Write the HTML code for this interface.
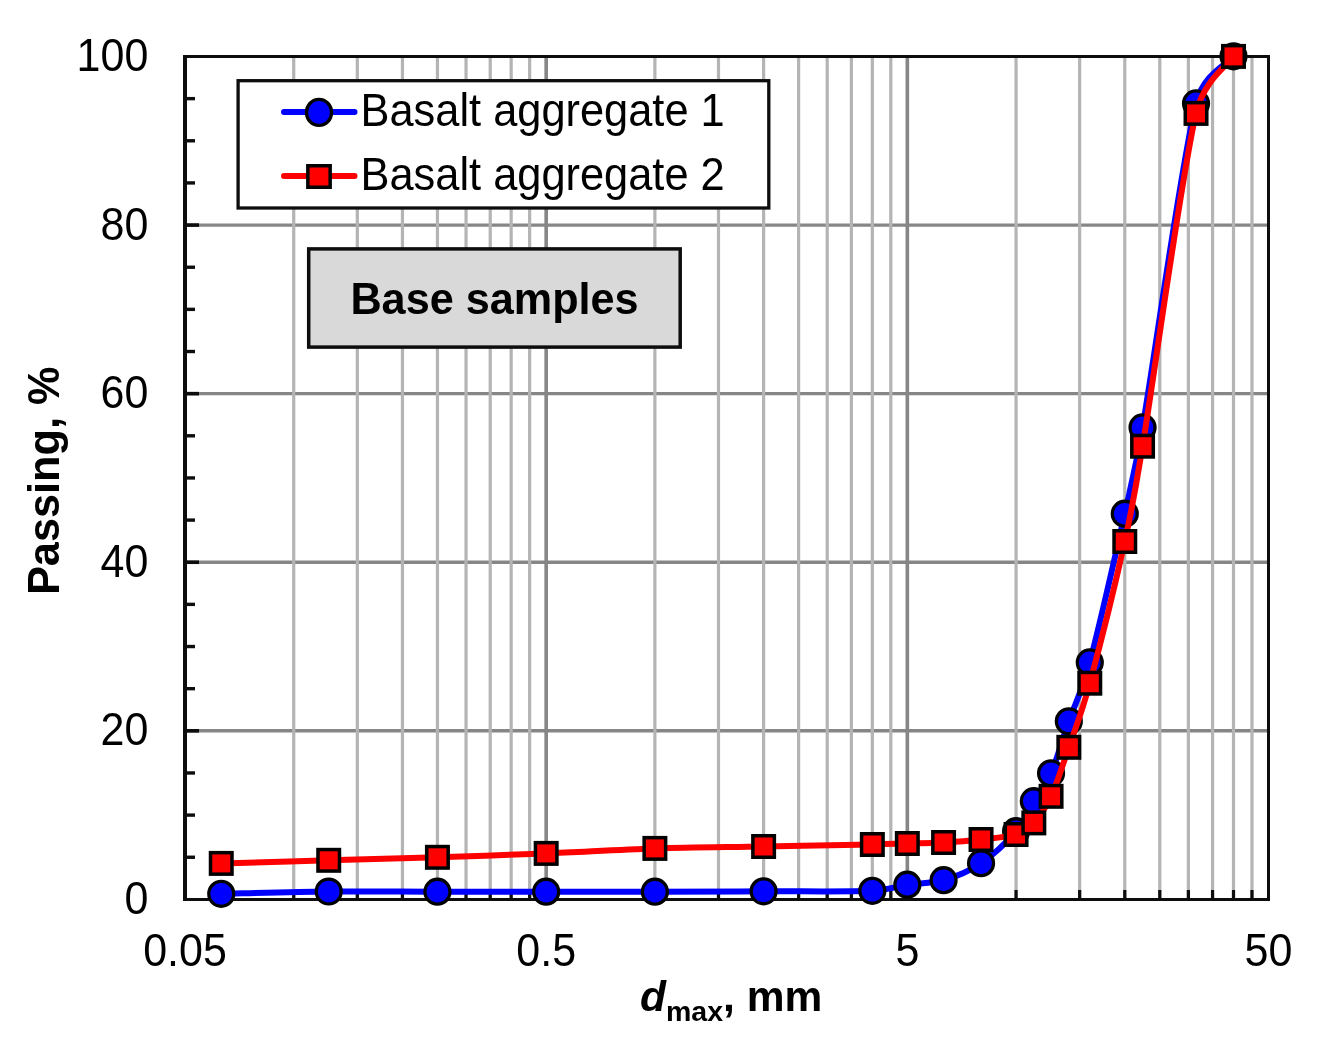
<!DOCTYPE html><html><head><meta charset="utf-8"><style>html,body{margin:0;padding:0;background:#fff;}svg{display:block;}text{font-family:"Liberation Sans",sans-serif;fill:#000;}svg{will-change:transform;}</style></head><body>
<svg width="1325" height="1052" viewBox="0 0 1325 1052">
<rect x="0" y="0" width="1325" height="1052" fill="#fff"/>
<line x1="185.0" y1="730.82" x2="1268.5" y2="730.82" stroke="#868686" stroke-width="3.4"/>
<line x1="185.0" y1="562.24" x2="1268.5" y2="562.24" stroke="#868686" stroke-width="3.4"/>
<line x1="185.0" y1="393.66" x2="1268.5" y2="393.66" stroke="#868686" stroke-width="3.4"/>
<line x1="185.0" y1="225.08" x2="1268.5" y2="225.08" stroke="#868686" stroke-width="3.4"/>
<line x1="293.72" y1="56.5" x2="293.72" y2="899.4" stroke="#b4b4b4" stroke-width="3.2"/>
<line x1="357.32" y1="56.5" x2="357.32" y2="899.4" stroke="#b4b4b4" stroke-width="3.2"/>
<line x1="402.44" y1="56.5" x2="402.44" y2="899.4" stroke="#b4b4b4" stroke-width="3.2"/>
<line x1="437.44" y1="56.5" x2="437.44" y2="899.4" stroke="#b4b4b4" stroke-width="3.2"/>
<line x1="466.04" y1="56.5" x2="466.04" y2="899.4" stroke="#b4b4b4" stroke-width="3.2"/>
<line x1="490.22" y1="56.5" x2="490.22" y2="899.4" stroke="#b4b4b4" stroke-width="3.2"/>
<line x1="511.17" y1="56.5" x2="511.17" y2="899.4" stroke="#b4b4b4" stroke-width="3.2"/>
<line x1="529.64" y1="56.5" x2="529.64" y2="899.4" stroke="#b4b4b4" stroke-width="3.2"/>
<line x1="654.89" y1="56.5" x2="654.89" y2="899.4" stroke="#b4b4b4" stroke-width="3.2"/>
<line x1="718.49" y1="56.5" x2="718.49" y2="899.4" stroke="#b4b4b4" stroke-width="3.2"/>
<line x1="763.61" y1="56.5" x2="763.61" y2="899.4" stroke="#b4b4b4" stroke-width="3.2"/>
<line x1="798.61" y1="56.5" x2="798.61" y2="899.4" stroke="#b4b4b4" stroke-width="3.2"/>
<line x1="827.21" y1="56.5" x2="827.21" y2="899.4" stroke="#b4b4b4" stroke-width="3.2"/>
<line x1="851.39" y1="56.5" x2="851.39" y2="899.4" stroke="#b4b4b4" stroke-width="3.2"/>
<line x1="872.33" y1="56.5" x2="872.33" y2="899.4" stroke="#b4b4b4" stroke-width="3.2"/>
<line x1="890.81" y1="56.5" x2="890.81" y2="899.4" stroke="#b4b4b4" stroke-width="3.2"/>
<line x1="1016.06" y1="56.5" x2="1016.06" y2="899.4" stroke="#b4b4b4" stroke-width="3.2"/>
<line x1="1079.65" y1="56.5" x2="1079.65" y2="899.4" stroke="#b4b4b4" stroke-width="3.2"/>
<line x1="1124.78" y1="56.5" x2="1124.78" y2="899.4" stroke="#b4b4b4" stroke-width="3.2"/>
<line x1="1159.78" y1="56.5" x2="1159.78" y2="899.4" stroke="#b4b4b4" stroke-width="3.2"/>
<line x1="1188.38" y1="56.5" x2="1188.38" y2="899.4" stroke="#b4b4b4" stroke-width="3.2"/>
<line x1="1212.55" y1="56.5" x2="1212.55" y2="899.4" stroke="#b4b4b4" stroke-width="3.2"/>
<line x1="1233.50" y1="56.5" x2="1233.50" y2="899.4" stroke="#b4b4b4" stroke-width="3.2"/>
<line x1="1251.97" y1="56.5" x2="1251.97" y2="899.4" stroke="#b4b4b4" stroke-width="3.2"/>
<line x1="546.17" y1="56.5" x2="546.17" y2="899.4" stroke="#868686" stroke-width="3.6"/>
<line x1="907.33" y1="56.5" x2="907.33" y2="899.4" stroke="#868686" stroke-width="3.6"/>
<line x1="185.0" y1="56.5" x2="1268.5" y2="56.5" stroke="#0d0d0d" stroke-width="3"/>
<line x1="1268.5" y1="55" x2="1268.5" y2="901" stroke="#0d0d0d" stroke-width="3"/>
<line x1="293.72" y1="890" x2="293.72" y2="899" stroke="#0d0d0d" stroke-width="3.2"/>
<line x1="357.32" y1="890" x2="357.32" y2="899" stroke="#0d0d0d" stroke-width="3.2"/>
<line x1="402.44" y1="890" x2="402.44" y2="899" stroke="#0d0d0d" stroke-width="3.2"/>
<line x1="437.44" y1="890" x2="437.44" y2="899" stroke="#0d0d0d" stroke-width="3.2"/>
<line x1="466.04" y1="890" x2="466.04" y2="899" stroke="#0d0d0d" stroke-width="3.2"/>
<line x1="490.22" y1="890" x2="490.22" y2="899" stroke="#0d0d0d" stroke-width="3.2"/>
<line x1="511.17" y1="890" x2="511.17" y2="899" stroke="#0d0d0d" stroke-width="3.2"/>
<line x1="529.64" y1="890" x2="529.64" y2="899" stroke="#0d0d0d" stroke-width="3.2"/>
<line x1="654.89" y1="890" x2="654.89" y2="899" stroke="#0d0d0d" stroke-width="3.2"/>
<line x1="718.49" y1="890" x2="718.49" y2="899" stroke="#0d0d0d" stroke-width="3.2"/>
<line x1="763.61" y1="890" x2="763.61" y2="899" stroke="#0d0d0d" stroke-width="3.2"/>
<line x1="798.61" y1="890" x2="798.61" y2="899" stroke="#0d0d0d" stroke-width="3.2"/>
<line x1="827.21" y1="890" x2="827.21" y2="899" stroke="#0d0d0d" stroke-width="3.2"/>
<line x1="851.39" y1="890" x2="851.39" y2="899" stroke="#0d0d0d" stroke-width="3.2"/>
<line x1="872.33" y1="890" x2="872.33" y2="899" stroke="#0d0d0d" stroke-width="3.2"/>
<line x1="890.81" y1="890" x2="890.81" y2="899" stroke="#0d0d0d" stroke-width="3.2"/>
<line x1="1016.06" y1="890" x2="1016.06" y2="899" stroke="#0d0d0d" stroke-width="3.2"/>
<line x1="1079.65" y1="890" x2="1079.65" y2="899" stroke="#0d0d0d" stroke-width="3.2"/>
<line x1="1124.78" y1="890" x2="1124.78" y2="899" stroke="#0d0d0d" stroke-width="3.2"/>
<line x1="1159.78" y1="890" x2="1159.78" y2="899" stroke="#0d0d0d" stroke-width="3.2"/>
<line x1="1188.38" y1="890" x2="1188.38" y2="899" stroke="#0d0d0d" stroke-width="3.2"/>
<line x1="1212.55" y1="890" x2="1212.55" y2="899" stroke="#0d0d0d" stroke-width="3.2"/>
<line x1="1233.50" y1="890" x2="1233.50" y2="899" stroke="#0d0d0d" stroke-width="3.2"/>
<line x1="1251.97" y1="890" x2="1251.97" y2="899" stroke="#0d0d0d" stroke-width="3.2"/>
<line x1="546.17" y1="890" x2="546.17" y2="899" stroke="#0d0d0d" stroke-width="3.2"/>
<line x1="907.33" y1="890" x2="907.33" y2="899" stroke="#0d0d0d" stroke-width="3.2"/>
<line x1="185" y1="857.25" x2="195" y2="857.25" stroke="#0d0d0d" stroke-width="3.4"/>
<line x1="185" y1="815.11" x2="195" y2="815.11" stroke="#0d0d0d" stroke-width="3.4"/>
<line x1="185" y1="772.96" x2="195" y2="772.96" stroke="#0d0d0d" stroke-width="3.4"/>
<line x1="185" y1="730.82" x2="199" y2="730.82" stroke="#0d0d0d" stroke-width="3.6"/>
<line x1="185" y1="688.67" x2="195" y2="688.67" stroke="#0d0d0d" stroke-width="3.4"/>
<line x1="185" y1="646.53" x2="195" y2="646.53" stroke="#0d0d0d" stroke-width="3.4"/>
<line x1="185" y1="604.38" x2="195" y2="604.38" stroke="#0d0d0d" stroke-width="3.4"/>
<line x1="185" y1="562.24" x2="199" y2="562.24" stroke="#0d0d0d" stroke-width="3.6"/>
<line x1="185" y1="520.10" x2="195" y2="520.10" stroke="#0d0d0d" stroke-width="3.4"/>
<line x1="185" y1="477.95" x2="195" y2="477.95" stroke="#0d0d0d" stroke-width="3.4"/>
<line x1="185" y1="435.80" x2="195" y2="435.80" stroke="#0d0d0d" stroke-width="3.4"/>
<line x1="185" y1="393.66" x2="199" y2="393.66" stroke="#0d0d0d" stroke-width="3.6"/>
<line x1="185" y1="351.51" x2="195" y2="351.51" stroke="#0d0d0d" stroke-width="3.4"/>
<line x1="185" y1="309.37" x2="195" y2="309.37" stroke="#0d0d0d" stroke-width="3.4"/>
<line x1="185" y1="267.23" x2="195" y2="267.23" stroke="#0d0d0d" stroke-width="3.4"/>
<line x1="185" y1="225.08" x2="199" y2="225.08" stroke="#0d0d0d" stroke-width="3.6"/>
<line x1="185" y1="182.93" x2="195" y2="182.93" stroke="#0d0d0d" stroke-width="3.4"/>
<line x1="185" y1="140.79" x2="195" y2="140.79" stroke="#0d0d0d" stroke-width="3.4"/>
<line x1="185" y1="98.64" x2="195" y2="98.64" stroke="#0d0d0d" stroke-width="3.4"/>
<line x1="185" y1="55" x2="185" y2="901" stroke="#0d0d0d" stroke-width="4"/>
<line x1="183" y1="899.5" x2="1270" y2="899.5" stroke="#0d0d0d" stroke-width="3"/>
<path d="M221.25,893.80 C239.16,893.42 292.69,891.85 328.72,891.50 C364.76,891.15 401.20,891.67 437.44,891.70 C473.69,891.73 509.93,891.70 546.17,891.70 C582.41,891.70 618.65,891.77 654.89,891.70 C691.13,891.63 727.37,891.45 763.61,891.30 C799.85,891.15 848.38,891.90 872.33,890.80 C890.08,889.99 895.46,886.47 907.33,884.70 C919.21,882.93 931.30,883.78 943.58,880.20 C955.87,876.62 968.98,871.37 981.05,863.20 C993.13,855.03 1007.26,841.53 1016.06,831.20 C1024.85,820.87 1028.00,810.85 1033.83,801.20 C1039.66,791.55 1045.22,786.62 1051.06,773.30 C1056.89,759.98 1062.38,739.78 1068.83,721.30 C1075.29,702.82 1081.64,692.58 1089.78,662.40 C1099.10,627.80 1115.98,552.87 1124.78,513.70 C1133.57,474.53 1135.02,470.81 1142.55,427.40 C1154.43,359.02 1180.87,165.25 1196.03,103.40 C1203.19,74.17 1227.25,64.15 1233.50,56.30" fill="none" stroke="#0000ff" stroke-width="6" stroke-linejoin="round" stroke-linecap="round"/>
<circle cx="221.25" cy="893.80" r="12.45" fill="#0000ff" stroke="#000" stroke-width="3.3"/>
<circle cx="328.72" cy="891.50" r="12.45" fill="#0000ff" stroke="#000" stroke-width="3.3"/>
<circle cx="437.44" cy="891.70" r="12.45" fill="#0000ff" stroke="#000" stroke-width="3.3"/>
<circle cx="546.17" cy="891.70" r="12.45" fill="#0000ff" stroke="#000" stroke-width="3.3"/>
<circle cx="654.89" cy="891.70" r="12.45" fill="#0000ff" stroke="#000" stroke-width="3.3"/>
<circle cx="763.61" cy="891.30" r="12.45" fill="#0000ff" stroke="#000" stroke-width="3.3"/>
<circle cx="872.33" cy="890.80" r="12.45" fill="#0000ff" stroke="#000" stroke-width="3.3"/>
<circle cx="907.33" cy="884.70" r="12.45" fill="#0000ff" stroke="#000" stroke-width="3.3"/>
<circle cx="943.58" cy="880.20" r="12.45" fill="#0000ff" stroke="#000" stroke-width="3.3"/>
<circle cx="981.05" cy="863.20" r="12.45" fill="#0000ff" stroke="#000" stroke-width="3.3"/>
<circle cx="1016.06" cy="831.20" r="12.45" fill="#0000ff" stroke="#000" stroke-width="3.3"/>
<circle cx="1033.83" cy="801.20" r="12.45" fill="#0000ff" stroke="#000" stroke-width="3.3"/>
<circle cx="1051.06" cy="773.30" r="12.45" fill="#0000ff" stroke="#000" stroke-width="3.3"/>
<circle cx="1068.83" cy="721.30" r="12.45" fill="#0000ff" stroke="#000" stroke-width="3.3"/>
<circle cx="1089.78" cy="662.40" r="12.45" fill="#0000ff" stroke="#000" stroke-width="3.3"/>
<circle cx="1124.78" cy="513.70" r="12.45" fill="#0000ff" stroke="#000" stroke-width="3.3"/>
<circle cx="1142.55" cy="427.40" r="12.45" fill="#0000ff" stroke="#000" stroke-width="3.3"/>
<circle cx="1196.03" cy="103.40" r="12.45" fill="#0000ff" stroke="#000" stroke-width="3.3"/>
<circle cx="1233.50" cy="56.30" r="12.45" fill="#0000ff" stroke="#000" stroke-width="3.3"/>
<path d="M221.25,863.40 C239.16,862.88 292.69,861.32 328.72,860.30 C364.76,859.28 401.20,858.45 437.44,857.30 C473.69,856.15 509.93,854.88 546.17,853.40 C582.41,851.92 618.65,849.55 654.89,848.40 C691.13,847.25 727.37,847.15 763.61,846.50 C799.85,845.85 848.38,845.00 872.33,844.50 C889.84,844.13 895.46,843.83 907.33,843.50 C919.21,843.17 931.30,843.17 943.58,842.50 C955.87,841.83 968.98,840.83 981.05,839.50 C993.13,838.17 1007.26,837.27 1016.06,834.50 C1024.85,831.73 1028.00,829.27 1033.83,822.90 C1039.66,816.53 1045.22,808.90 1051.06,796.30 C1056.89,783.70 1062.38,766.15 1068.83,747.30 C1075.29,728.45 1080.93,715.74 1089.78,683.20 C1099.10,648.90 1115.98,581.00 1124.78,541.50 C1133.57,502.00 1134.60,494.01 1142.55,446.20 C1154.43,374.85 1180.87,178.37 1196.03,113.40 C1203.78,80.19 1227.25,65.90 1233.50,56.40" fill="none" stroke="#ff0000" stroke-width="6" stroke-linejoin="round" stroke-linecap="round"/>
<rect x="210.50" y="852.65" width="21.5" height="21.5" fill="#ff0000" stroke="#000" stroke-width="3.5"/>
<rect x="317.97" y="849.55" width="21.5" height="21.5" fill="#ff0000" stroke="#000" stroke-width="3.5"/>
<rect x="426.69" y="846.55" width="21.5" height="21.5" fill="#ff0000" stroke="#000" stroke-width="3.5"/>
<rect x="535.42" y="842.65" width="21.5" height="21.5" fill="#ff0000" stroke="#000" stroke-width="3.5"/>
<rect x="644.14" y="837.65" width="21.5" height="21.5" fill="#ff0000" stroke="#000" stroke-width="3.5"/>
<rect x="752.86" y="835.75" width="21.5" height="21.5" fill="#ff0000" stroke="#000" stroke-width="3.5"/>
<rect x="861.58" y="833.75" width="21.5" height="21.5" fill="#ff0000" stroke="#000" stroke-width="3.5"/>
<rect x="896.58" y="832.75" width="21.5" height="21.5" fill="#ff0000" stroke="#000" stroke-width="3.5"/>
<rect x="932.83" y="831.75" width="21.5" height="21.5" fill="#ff0000" stroke="#000" stroke-width="3.5"/>
<rect x="970.30" y="828.75" width="21.5" height="21.5" fill="#ff0000" stroke="#000" stroke-width="3.5"/>
<rect x="1005.31" y="823.75" width="21.5" height="21.5" fill="#ff0000" stroke="#000" stroke-width="3.5"/>
<rect x="1023.08" y="812.15" width="21.5" height="21.5" fill="#ff0000" stroke="#000" stroke-width="3.5"/>
<rect x="1040.31" y="785.55" width="21.5" height="21.5" fill="#ff0000" stroke="#000" stroke-width="3.5"/>
<rect x="1058.08" y="736.55" width="21.5" height="21.5" fill="#ff0000" stroke="#000" stroke-width="3.5"/>
<rect x="1079.03" y="672.45" width="21.5" height="21.5" fill="#ff0000" stroke="#000" stroke-width="3.5"/>
<rect x="1114.03" y="530.75" width="21.5" height="21.5" fill="#ff0000" stroke="#000" stroke-width="3.5"/>
<rect x="1131.80" y="435.45" width="21.5" height="21.5" fill="#ff0000" stroke="#000" stroke-width="3.5"/>
<rect x="1185.28" y="102.65" width="21.5" height="21.5" fill="#ff0000" stroke="#000" stroke-width="3.5"/>
<rect x="1222.75" y="45.65" width="21.5" height="21.5" fill="#ff0000" stroke="#000" stroke-width="3.5"/>
<rect x="238.1" y="80.7" width="530.7" height="127.3" fill="#fff" stroke="#0d0d0d" stroke-width="3.3"/>
<line x1="284" y1="112" x2="354.5" y2="112" stroke="#0000ff" stroke-width="6" stroke-linecap="round"/>
<ellipse cx="319" cy="112.4" rx="12.5" ry="13.0" fill="#0000ff" stroke="#000" stroke-width="3.4"/>
<line x1="284" y1="176" x2="354.5" y2="176" stroke="#ff0000" stroke-width="6" stroke-linecap="round"/>
<rect x="307.85" y="165.75" width="22.3" height="21.5" fill="#ff0000" stroke="#000" stroke-width="3.5"/>
<text transform="translate(360.50,126.20) scale(1.0000,1.0550)" font-size="43.4">Basalt aggregate 1</text>
<text transform="translate(360.50,190.10) scale(1.0000,1.0550)" font-size="43.4">Basalt aggregate 2</text>
<rect x="308.7" y="248.9" width="371.5" height="98.2" fill="#d9d9d9" stroke="#0d0d0d" stroke-width="3.5"/>
<text transform="translate(494.50,314.00) scale(1.0000,1.0200)" font-size="43.2" text-anchor="middle" font-weight="bold">Base samples</text>
<text transform="translate(148.30,914.00) scale(1.0000,1.0550)" font-size="43.0" text-anchor="end">0</text>
<text transform="translate(148.30,745.42) scale(1.0000,1.0550)" font-size="43.0" text-anchor="end">20</text>
<text transform="translate(148.30,576.84) scale(1.0000,1.0550)" font-size="43.0" text-anchor="end">40</text>
<text transform="translate(148.30,408.26) scale(1.0000,1.0550)" font-size="43.0" text-anchor="end">60</text>
<text transform="translate(148.30,239.68) scale(1.0000,1.0550)" font-size="43.0" text-anchor="end">80</text>
<text transform="translate(148.30,71.10) scale(1.0000,1.0550)" font-size="43.0" text-anchor="end">100</text>
<text transform="translate(185.00,965.50) scale(1.0000,1.0550)" font-size="43.0" text-anchor="middle">0.05</text>
<text transform="translate(546.17,965.50) scale(1.0000,1.0550)" font-size="43.0" text-anchor="middle">0.5</text>
<text transform="translate(907.33,965.50) scale(1.0000,1.0550)" font-size="43.0" text-anchor="middle">5</text>
<text transform="translate(1268.50,965.50) scale(1.0000,1.0550)" font-size="43.0" text-anchor="middle">50</text>
<text transform="translate(58.80,480.80) rotate(-90) scale(1.0000,1.0400)" font-size="43.3" text-anchor="middle" font-weight="bold">Passing, %</text>
<text transform="translate(640.00,1010.60) scale(1.0000,1.0000)" font-size="42.5" font-weight="bold"><tspan font-style="italic">d</tspan><tspan font-size="28.5" dy="10">max</tspan><tspan dy="-10">, mm</tspan></text>
</svg></body></html>
